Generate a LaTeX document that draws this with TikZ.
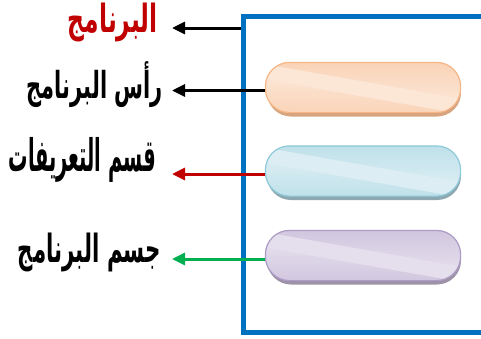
\documentclass[tikz,border=0pt]{standalone}
\usepackage{fontspec}
\usetikzlibrary{arrows.meta,shadows}
\newfontfamily\arabicfont[Script=Arabic]{DejaVu Sans}
\TeXXeTstate=1
\definecolor{frameblue}{HTML}{0070C0}
\definecolor{darkred}{HTML}{C00000}
\definecolor{brgreen}{HTML}{00B050}
% section colours: edge of gradient, light band, outline, shadow
\definecolor{orEdge}{HTML}{F8C29A}\definecolor{orLight}{HTML}{FCE6D6}
\definecolor{orLine}{HTML}{F5B584}\definecolor{orShadow}{HTML}{D6A47E}
\definecolor{blEdge}{HTML}{A3D4E1}\definecolor{blLight}{HTML}{DCEEF3}
\definecolor{blLine}{HTML}{8FCADB}\definecolor{blShadow}{HTML}{8EA8B1}
\definecolor{puEdge}{HTML}{BDAFD1}\definecolor{puLight}{HTML}{E5DFED}
\definecolor{puLine}{HTML}{AC9BC4}\definecolor{puShadow}{HTML}{9D92A7}
% glossy fill of a pill node: two-colour shades on each side of a tilted light band
\newcommand\glosspill[4]{%
  \begin{scope}
    \clip[rounded corners=24pt] (#1.south west) rectangle (#1.north east);
    \begin{scope}[shift={(#1.center)}, rotate=-10]
      \shade[top color=#2, bottom color=#3] (-110,-45) rectangle (110,-3);
      \shade[top color=#3, bottom color=#2] (-110,6) rectangle (110,45);
      \fill[#3] (-110,-6) rectangle (110,9);
    \end{scope}
  \end{scope}
  \draw[#4, line width=1.2pt, rounded corners=24pt] (#1.south west) rectangle (#1.north east);}
\begin{document}
\begin{tikzpicture}[x=1pt,y=-1pt,
  pill/.style n args={3}{draw=#2, fill=#1, line width=1.2pt, rectangle, rounded corners=24pt,
    minimum width=194pt, minimum height=49pt,
    drop shadow={shadow xshift=1pt, shadow yshift=-4.5pt, fill=#3, opacity=1}},
  label/.style={anchor=north east, inner sep=0pt, font=\arabicfont\bfseries\fontsize{20}{24}\selectfont},
  arr/.style={line width=3pt, -{Triangle[length=13pt,width=12pt]}}]
\clip (0,0) rectangle (481,338);
\useasboundingbox (0,0) rectangle (481,338);
\fill[white] (0,0) rectangle (481,338);
% outer frame
\node[draw=frameblue, line width=5pt, minimum width=252pt, minimum height=316pt,
  inner sep=0pt] (frame) at (369,174) {};
% three sections
\node[pill={orEdge}{orLine}{orShadow}] (head) at (363,87.5) {};
\glosspill{head}{orEdge}{orLight}{orLine}
\node[pill={blEdge}{blLine}{blShadow}] (defs) at (363,171) {};
\glosspill{defs}{blEdge}{blLight}{blLine}
\node[pill={puEdge}{puLine}{puShadow}] (body) at (363,255.5) {};
\glosspill{body}{puEdge}{puLight}{puLine}
% labels
\node[label, text=darkred] (l1) at (158,3) {\resizebox*{90pt}{39pt}{\beginR البرنامج\endR}};
\node[label] (l2) at (163,61.5) {\resizebox*{136pt}{46pt}{\beginR رأس البرنامج\endR}};
\node[label] (l3) at (156,137) {\resizebox*{147pt}{45pt}{\beginR قسم التعريفات\endR}};
\node[label] (l4) at (161,233) {\resizebox*{143pt}{39pt}{\beginR جسم البرنامج\endR}};
% arrow tips
\coordinate (t1) at (172,28);
\coordinate (t2) at (172,90.5);
\coordinate (t3) at (172,174);
\coordinate (t4) at (172,259);
% connectors
\draw[arr] (t1 -| frame.west) -- (t1);
\draw[arr] (t2 -| head.west) -- (t2);
\draw[arr, darkred] (t3 -| defs.west) -- (t3);
\draw[arr, brgreen] (t4 -| body.west) -- (t4);
\end{tikzpicture}
\end{document}
